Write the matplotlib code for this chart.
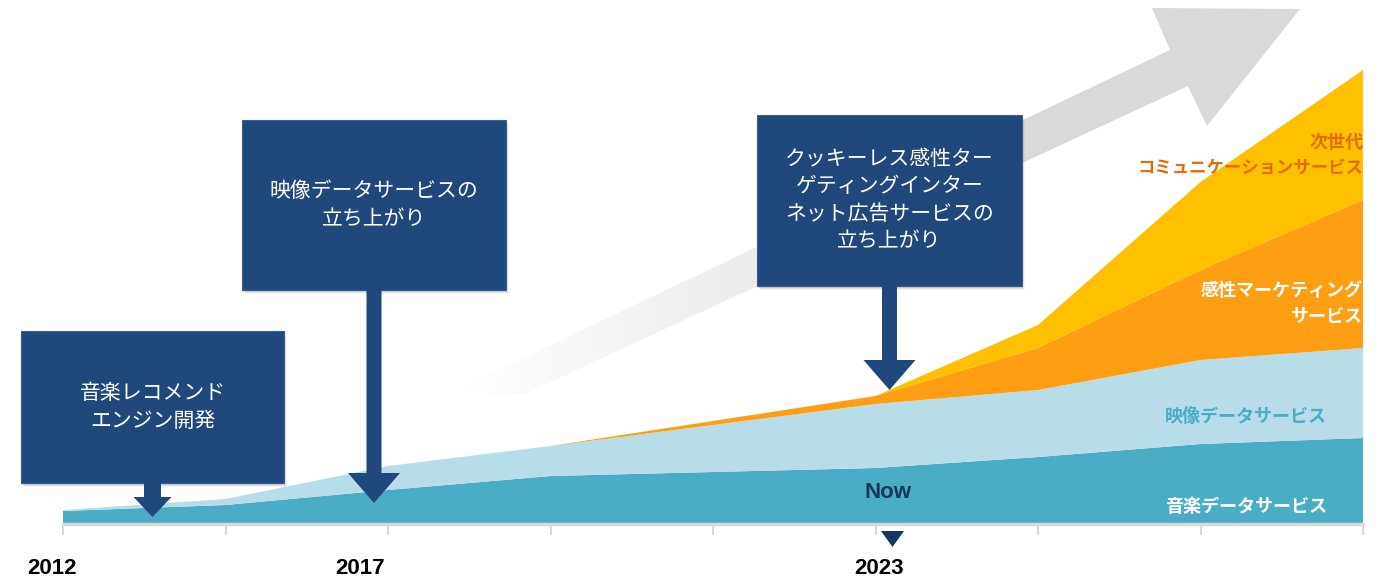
import numpy as np
import matplotlib.pyplot as plt
from matplotlib.patches import Polygon, Rectangle, FancyArrow

# x positions (8 intervals along the timeline)
xs = [0, 1, 2, 3, 4, 5, 6, 7, 8]
# layer thicknesses (chart units)
music = [13, 19, 34, 48, 52, 56, 67, 80, 86]
video = [1, 6, 24, 30, 47, 64, 67, 84, 90]
kansei = [0, 0, 0, 0, 4, 8, 42, 90, 148]
nextgen = [0, 0, 0, 0, 0, 0, 23, 88, 130]
layer_colors = ["#4BACC6", "#B7DDE8", "#FF9E12", "#FFC000"]

years = ["2012", "2017", "2023"]
year_x = [-0.07, 1.83, 5.02]

jp = ["Noto Sans CJK JP", "DejaVu Sans"]
narrow = ["Liberation Sans Narrow", "Liberation Sans", "DejaVu Sans"]
navy = "#1F497D"

W, H = 1388, 579
fig = plt.figure(figsize=(W / 100, H / 100), dpi=100)

# background overlay (pixel coords) for the grey gradient arrow
bg = fig.add_axes([0, 0, 1, 1], zorder=0)
bg.set_xlim(0, W)
bg.set_ylim(H, 0)
bg.axis("off")
arrow_pts = [(450, 393), (1170, 50), (1152, 8), (1300, 9), (1207, 126), (1188, 86), (525, 394)]
poly = Polygon(arrow_pts, closed=True, facecolor="none", edgecolor="none")
bg.add_patch(poly)
alpha = np.clip((np.linspace(440, 1310, 400) - 455) / 600.0, 0, 1)
img = np.zeros((2, 400, 4))
img[..., 0] = 0xD9 / 255
img[..., 1] = 0xD9 / 255
img[..., 2] = 0xD9 / 255
img[..., 3] = alpha
im = bg.imshow(img, extent=(440, 1310, 400, 0), aspect="auto", interpolation="bilinear")
im.set_clip_path(poly)

# main stacked area chart
ax = fig.add_axes([63 / W, (H - 524) / H, 1300 / W, 524 / H], zorder=1)
ax.patch.set_alpha(0)
ax.stackplot(xs, music, video, kansei, nextgen, colors=layer_colors, linewidth=0)
ax.set_xlim(0, 8)
ax.set_ylim(0, 524)
for s in ["top", "right", "left"]:
    ax.spines[s].set_visible(False)
ax.spines["bottom"].set_color("#D9D9D9")
ax.spines["bottom"].set_linewidth(2.5)
ax.set_xticks(xs)
ax.set_xticklabels([])
ax.set_yticks([])
ax.tick_params(axis="x", direction="out", length=8, width=1.5, color="#D9D9D9")

for lab, xv in zip(years, year_x):
    ax.text(xv, -34, lab, ha="center", va="top", fontsize=16, fontweight="bold",
            family=narrow, color="black", clip_on=False)

# series labels
ax.text(8, 381, "次世代", ha="right", va="center", fontsize=13, fontweight="bold",
        family=jp, color="#E46C0A")
ax.text(8, 356, "コミュニケーションサービス", ha="right", va="center", fontsize=12.5,
        fontweight="bold", family=jp, color="#E46C0A")
ax.text(8, 234, "感性マーケティング", ha="right", va="center", fontsize=13,
        fontweight="bold", family=jp, color="white")
ax.text(8, 208, "サービス", ha="right", va="center", fontsize=13,
        fontweight="bold", family=jp, color="white")
ax.text(7.78, 108, "映像データサービス", ha="right", va="center", fontsize=13,
        fontweight="bold", family=jp, color="#4BACC6")
ax.text(7.78, 18, "音楽データサービス", ha="right", va="center", fontsize=13,
        fontweight="bold", family=jp, color="white")
ax.text(5.08, 32, "Now", ha="center", va="center", fontsize=16, fontweight="bold",
        family=narrow, color="#17375E")

# top overlay: callout boxes and arrows
fg = fig.add_axes([0, 0, 1, 1], zorder=2)
fg.set_xlim(0, W)
fg.set_ylim(H, 0)
fg.axis("off")

boxes = [
    (21, 331, 263, 152, "音楽レコメンド\nエンジン開発", 483, 517, 17, 38, 20),
    (242, 120, 264, 170, "映像データサービスの\n立ち上がり", 290, 503, 15, 52, 30),
    (757, 115, 265, 171, "クッキーレス感性ター\nゲティングインター\nネット広告サービスの\n立ち上がり", 286, 390, 15, 52, 30),
]
text_y = [407, 205, 200]
for (bx, by, bw, bh, txt, a0, a1, sw, hw, hl), ty in zip(boxes, text_y):
    cx = bx + bw / 2
    for k, a in enumerate([0.10, 0.07, 0.04]):
        fg.add_patch(Rectangle((bx + 1 + k, by + 2 + k), bw, bh, facecolor="black",
                               alpha=a, edgecolor="none"))
    fg.add_patch(Rectangle((bx, by), bw, bh, facecolor=navy, edgecolor="#3A5F8F", linewidth=0.8))
    fg.add_patch(FancyArrow(cx, a0 - 1, 0, a1 - a0 + 1, width=sw, head_width=hw, head_length=hl,
                            length_includes_head=True, facecolor=navy, edgecolor="none"))
    fg.text(cx, ty, txt, ha="center", va="center", fontsize=15, family=jp,
            color="white", linespacing=1.3)

# "now" marker
fg.add_patch(Polygon([(881, 531), (904, 531), (892.5, 547)], closed=True,
                     facecolor="#17375E", edgecolor="none"))

fig.savefig("out.png", dpi=100)
